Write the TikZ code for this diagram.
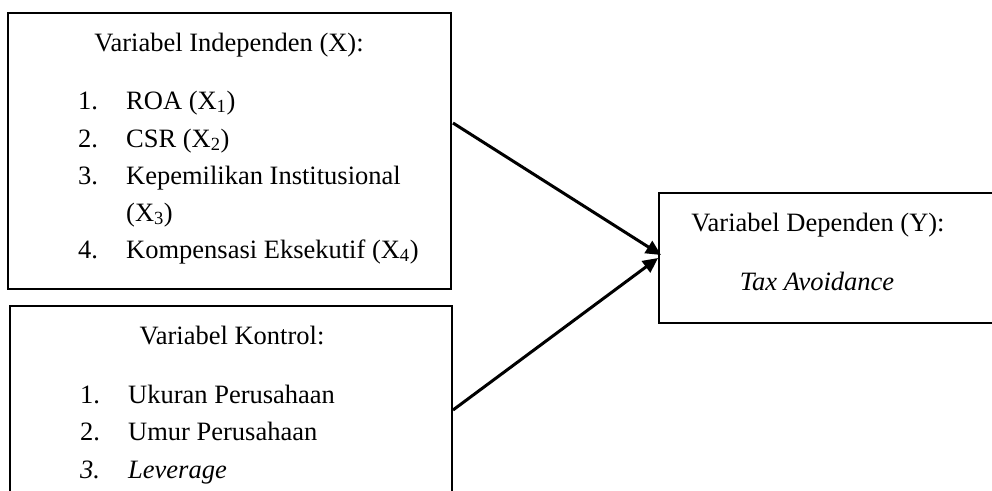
\documentclass[tikz,border=0pt]{standalone}
\usepackage{fontspec}
\setmainfont{Liberation Serif}
\usetikzlibrary{arrows.meta}
\tikzset{
  frame/.style={draw=black, line width=2pt},
  txt/.style={inner sep=0pt, anchor=base, font=\fontsize{26.5}{30}\selectfont},
  itm/.style={txt, anchor=base west},
  conn/.style={line width=3pt, -{Triangle[length=15pt,width=14pt]}}
}
\begin{document}
\begin{tikzpicture}[x=1pt,y=-1pt]
\useasboundingbox (0,0) rectangle (992,490);
\clip (0,0) rectangle (992,490);
% boxes
\draw[frame] (8,13) rectangle (451,289);
\draw[frame] (10,306) rectangle (452,520);
\draw[frame] (659,193) rectangle (1010,323);
% box 1 texts
\node[txt] (t1) at (229,51) {Variabel Independen (X):};
\node[itm] (n11) at (78,109) {1.};
\node[itm] (i11) at (126,109) {ROA (X\textsubscript{1})};
\node[itm] (n12) at (78,147) {2.};
\node[itm] (i12) at (126,147) {CSR (X\textsubscript{2})};
\node[itm] (n13) at (78,184) {3.};
\node[itm] (i13) at (126,184) {Kepemilikan Institusional};
\node[itm] (i13b) at (126,221) {(X\textsubscript{3})};
\node[itm] (n14) at (78,258) {4.};
\node[itm] (i14) at (126,258) {Kompensasi Eksekutif (X\textsubscript{4})};
% box 2 texts
\node[txt] (t2) at (232,344) {Variabel Kontrol:};
\node[itm] (n21) at (80,403) {1.};
\node[itm] (i21) at (128,403) {Ukuran Perusahaan};
\node[itm] (n22) at (80,440) {2.};
\node[itm] (i22) at (128,440) {Umur Perusahaan};
\node[itm] (n23) at (80,478) {\itshape 3.};
\node[itm] (i23) at (128,478) {\itshape Leverage};
% box 3 texts
\node[txt] (t3) at (818,231) {Variabel Dependen (Y):};
\node[txt] (t4) at (817,290) {\itshape Tax Avoidance};
% connectors
\coordinate (a1s) at (453,123);
\coordinate (a1e) at (661,255);
\coordinate (a2s) at (453,410);
\coordinate (a2e) at (658,258);
\draw[conn] (a1s) -- (a1e);
\draw[conn] (a2s) -- (a2e);
\end{tikzpicture}
\end{document}
